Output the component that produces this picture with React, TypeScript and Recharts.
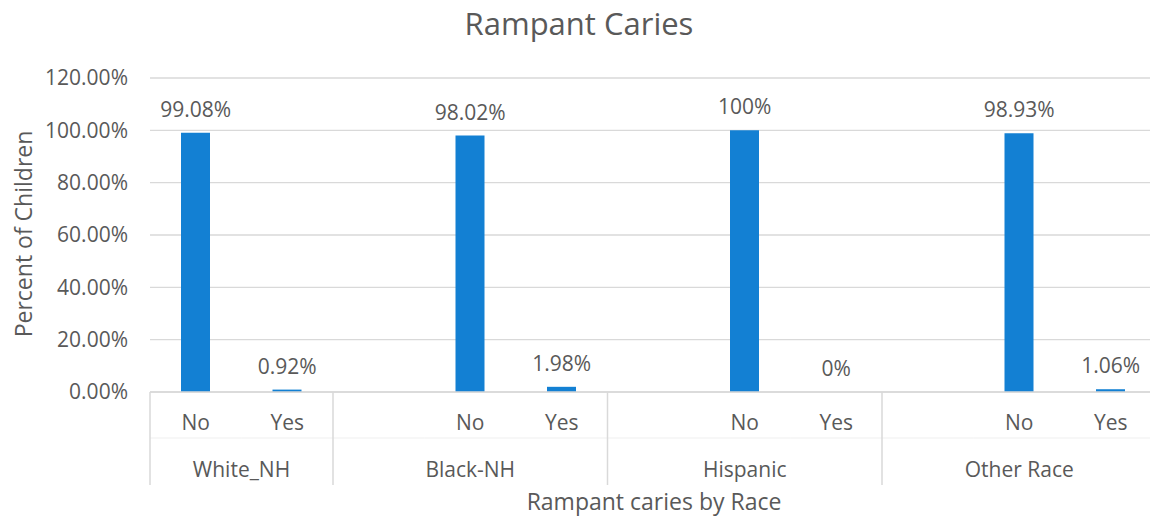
import React from "react";
import { ComposedChart, Bar, Line, XAxis, YAxis, CartesianGrid, LabelList } from "recharts";

const races = ["White_NH", "Black-NH", "Hispanic", "Other Race"];
const noValues = [99.08, 98.02, 100, 98.93];
const yesValues = [0.92, 1.98, 0, 1.06];
const yTicks = [0, 20, 40, 60, 80, 100, 120];

type Row = { key: string; race: string; answer: string; value: number | null };
const rows: Row[] = [];
races.forEach((race, i) => {
  if (i > 0) rows.push({ key: `${race}|`, race, answer: "", value: null });
  rows.push({ key: `${race}|No`, race, answer: "No", value: noValues[i] });
  rows.push({ key: `${race}|Yes`, race, answer: "Yes", value: yesValues[i] });
});

const FONT = "'Open Sans', 'Noto Sans', sans-serif";
const TXT = "#595959";
const CHART_W = 1160;
const CHART_H = 525;
const MARGIN = { top: 78, right: 3.5, bottom: 0, left: 0 };
const Y_W = 150;
const X_H = 133;
const PLOT_BOTTOM = CHART_H - MARGIN.bottom - X_H;
const BAND = (CHART_W - MARGIN.left - MARGIN.right - Y_W) / rows.length;

const CategoryTick = (props: any) => {
  const { x, payload } = props;
  const i = rows.findIndex((r) => r.key === payload.value);
  if (i < 0) return null;
  const row = rows[i];
  const left = x - BAND / 2;
  const right = x + BAND / 2;
  const first = i === 0 || rows[i - 1].race !== row.race;
  let size = 0;
  if (first) {
    let j = i;
    while (j < rows.length && rows[j].race === row.race) {
      size++;
      j++;
    }
  }
  const y0 = PLOT_BOTTOM;
  return (
    <g>
      <line x1={left} x2={right} y1={y0 + 46} y2={y0 + 46} stroke="#efefef" strokeWidth={1} />
      {row.answer && (
        <text x={x} y={y0 + 38} textAnchor="middle" fill={TXT} fontSize={21} fontFamily={FONT}>
          {row.answer}
        </text>
      )}
      {first && (
        <>
          <line x1={left} x2={left} y1={y0} y2={y0 + 93} stroke="#d9d9d9" strokeWidth={1.5} />
          <text x={left + (size * BAND) / 2} y={y0 + 85} textAnchor="middle" fill={TXT} fontSize={21} fontFamily={FONT}>
            {row.race}
          </text>
        </>
      )}
      {i === rows.length - 1 && (
        <line x1={right} x2={right} y1={y0} y2={y0 + 93} stroke="#d9d9d9" strokeWidth={1.5} />
      )}
    </g>
  );
};

const fmtLabel = (v: any) => (v === null || v === undefined ? "" : `${v}%`);

export default function App() {
  return (
    <div style={{ position: "relative", width: 1150, height: 525, overflow: "hidden", background: "#fff" }}>
      <style>{`body{margin:0;}`}</style>
      <ComposedChart width={CHART_W} height={CHART_H} data={rows} margin={MARGIN}>
        <CartesianGrid vertical={false} stroke="#d9d9d9" strokeWidth={1.3} />
        <XAxis
          dataKey="key"
          interval={0}
          tickLine={false}
          axisLine={{ stroke: "#d9d9d9", strokeWidth: 1.5 }}
          height={X_H}
          tick={<CategoryTick />}
        />
        <YAxis
          width={Y_W}
          domain={[0, 120]}
          ticks={yTicks}
          tickFormatter={(v: number) => `${v.toFixed(2)}%`}
          tickLine={false}
          axisLine={false}
          tickSize={0}
          tickMargin={22}
          tick={{ fill: TXT, fontSize: 21, fontFamily: FONT }}
        />
        <Bar dataKey="value" fill="#1380D3" barSize={29} isAnimationActive={false} />
        <Line
          dataKey="value"
          stroke="none"
          dot={false}
          activeDot={false}
          legendType="none"
          isAnimationActive={false}
        >
          <LabelList
            dataKey="value"
            position="top"
            offset={16}
            formatter={fmtLabel}
            fill={TXT}
            fontSize={21}
            fontFamily={FONT}
          />
        </Line>
      </ComposedChart>
      <svg width={1150} height={525} style={{ position: "absolute", left: 0, top: 0, pointerEvents: "none" }}>
        <text x={579} y={35} textAnchor="middle" fill={TXT} fontSize={31} fontFamily={FONT}>
          Rampant Caries
        </text>
        <text x={654} y={510} textAnchor="middle" fill={TXT} fontSize={23} fontFamily={FONT}>
          Rampant caries by Race
        </text>
        <text
          x={32}
          y={234}
          textAnchor="middle"
          fill={TXT}
          fontSize={23}
          fontFamily={FONT}
          transform="rotate(-90 32 234)"
        >
          Percent of Children
        </text>
      </svg>
    </div>
  );
}
